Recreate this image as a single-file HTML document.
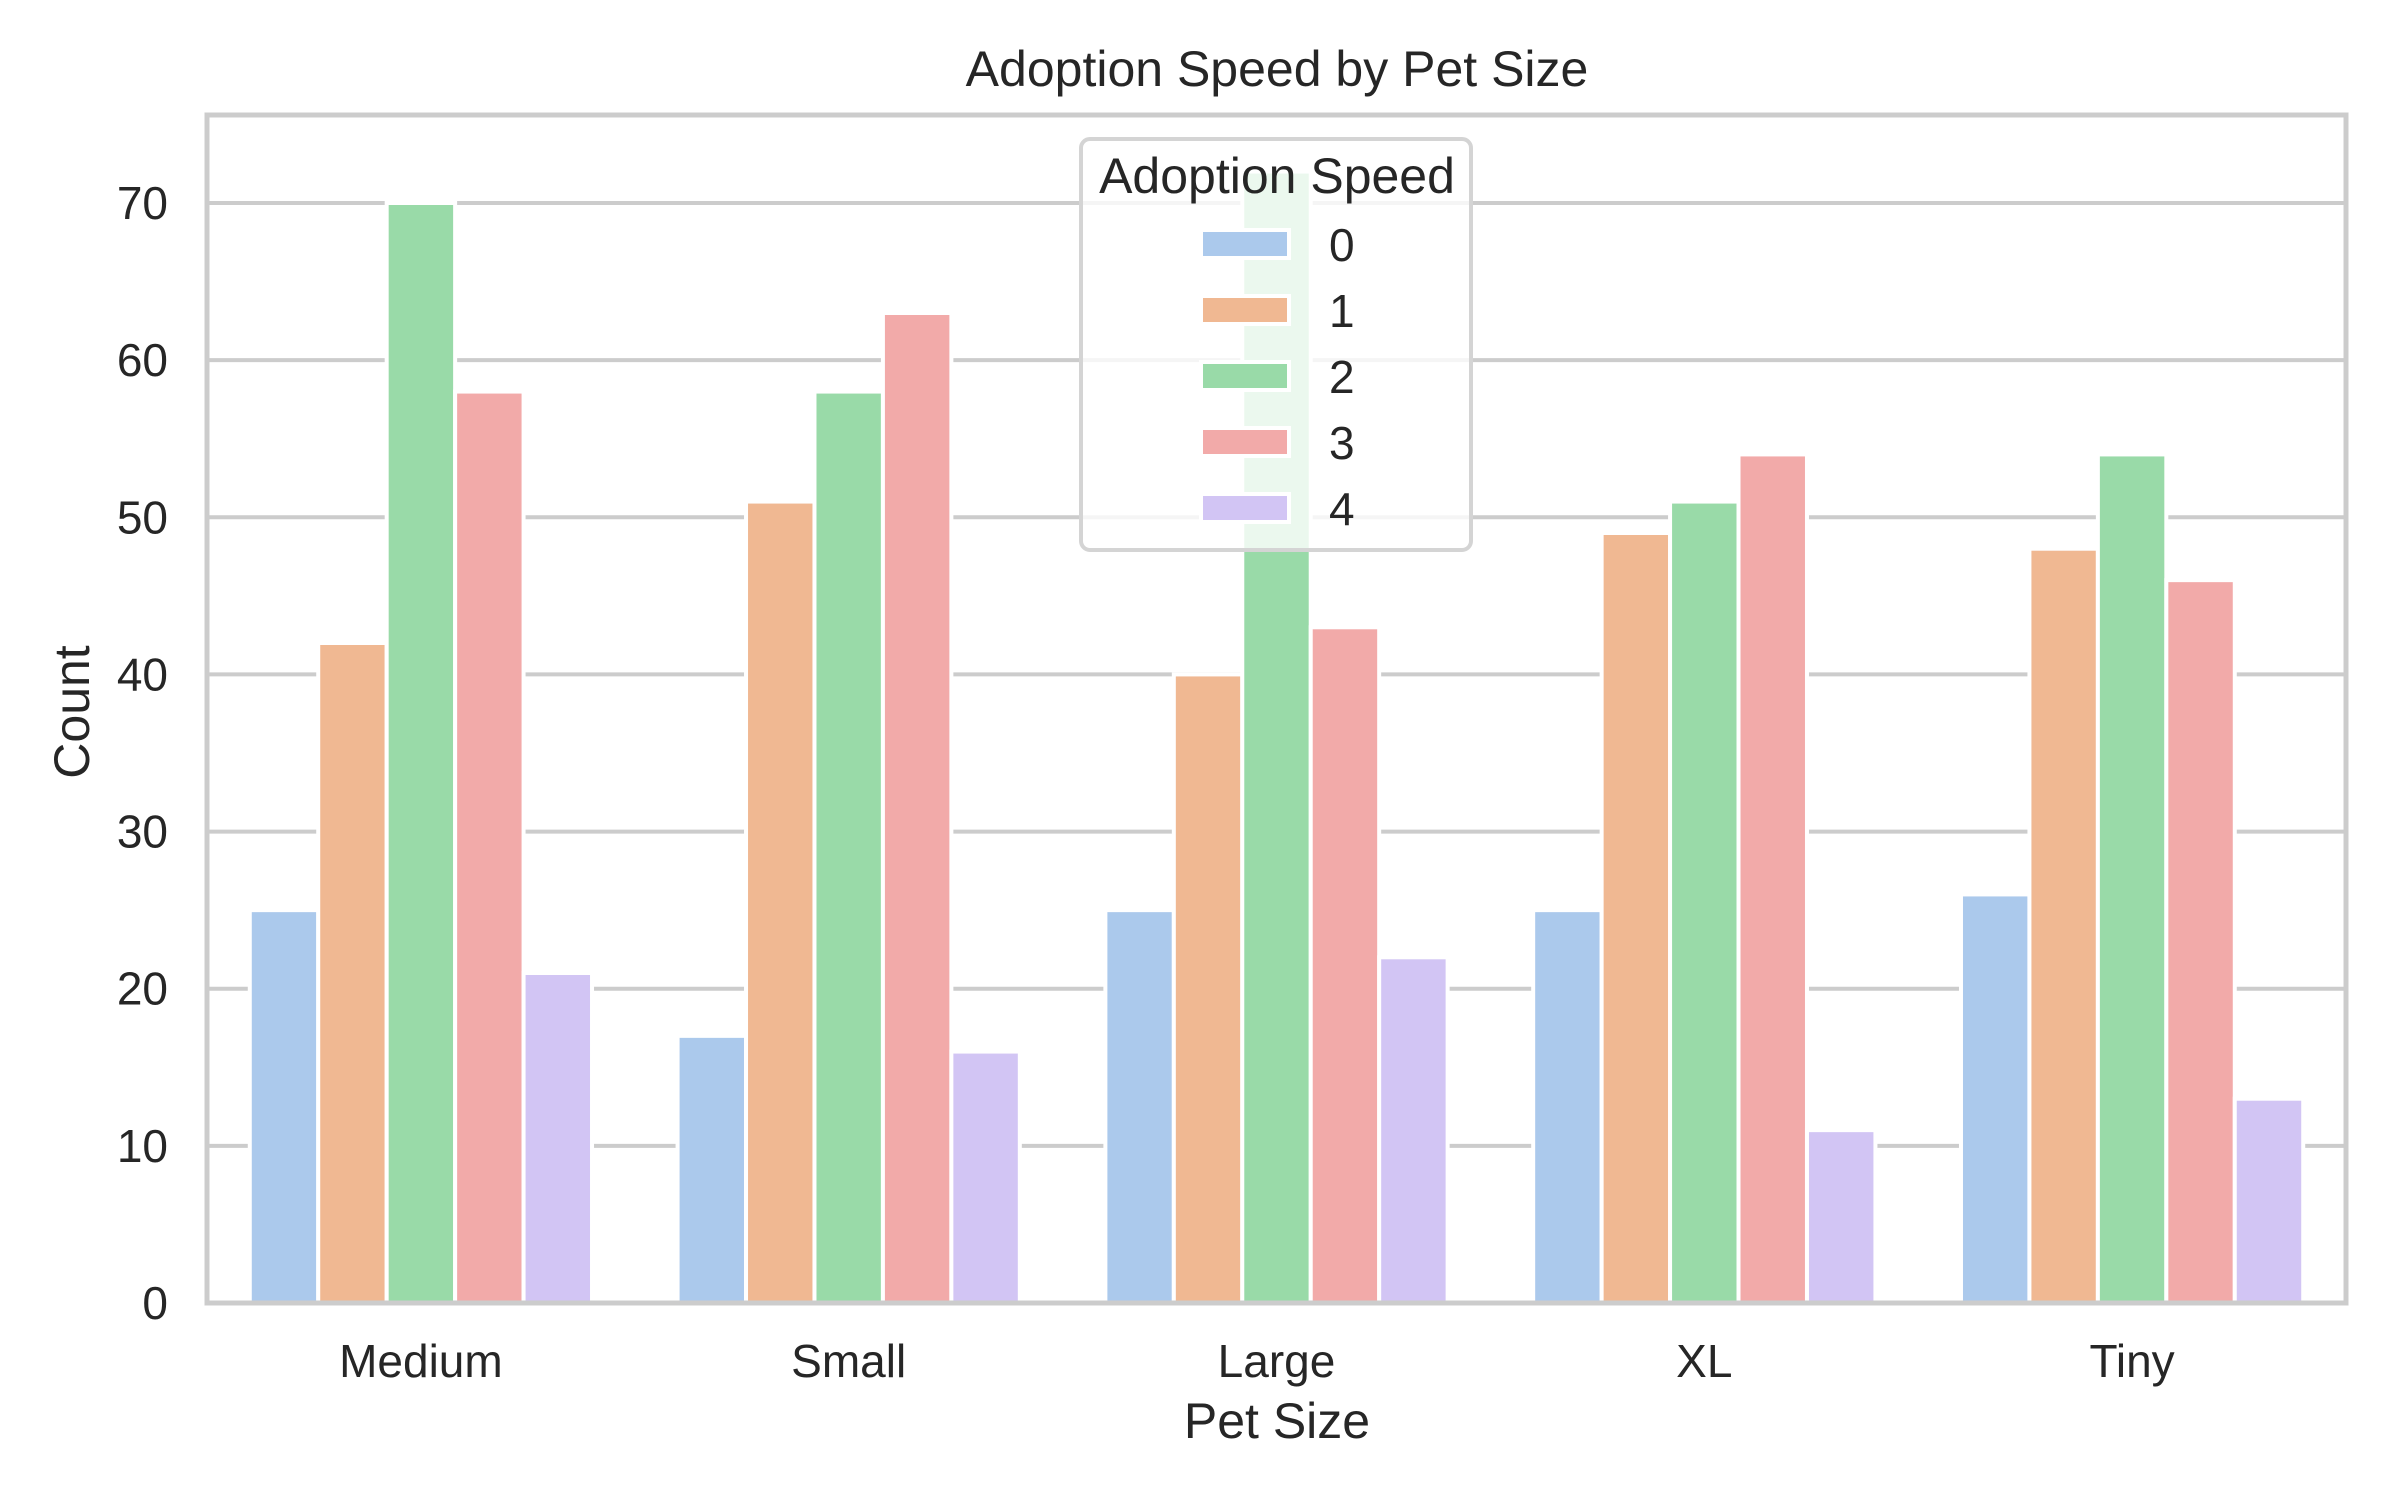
<!DOCTYPE html>
<html><head><meta charset="utf-8"><style>
html,body{margin:0;padding:0;background:#fff;}
svg{display:block;font-family:"Liberation Sans",Arial,sans-serif;}
</style></head><body>
<svg id="chart" xmlns="http://www.w3.org/2000/svg" width="2400" height="1500" viewBox="0 0 2400 1500">
<rect width="2400" height="1500" fill="#fff"/>
<g id="grid"></g>
<g id="bars"></g>
<g id="spines"></g>
<g id="yticks"></g>
<g id="xticks"></g>
<text x="1277" y="86" font-size="50" fill="#262626" text-anchor="middle">Adoption Speed by Pet Size</text>
<text x="1277" y="1438" font-size="50" fill="#262626" text-anchor="middle">Pet Size</text>
<text x="0" y="0" font-size="50" fill="#262626" text-anchor="middle" transform="translate(89,712) rotate(-90)">Count</text>
<g id="legend"></g>
</svg>
<script>
const categories = ["Medium","Small","Large","XL","Tiny"];
const seriesNames = ["0","1","2","3","4"];
const speed0 = [25,17,25,25,26];
const speed1 = [42,51,40,49,48];
const speed2 = [70,58,72,51,54];
const speed3 = [58,63,43,54,46];
const speed4 = [21,16,22,11,13];
const yTicks = [0,10,20,30,40,50,60,70];
const series = [speed0,speed1,speed2,speed3,speed4];
const colors = ["#abc9ec","#f0b892","#99daa8","#f2aaa9","#d2c5f4"];

const NS = "http://www.w3.org/2000/svg";
const L = 207, R = 2346, T = 115, B = 1303;
const yMax = 75.6;
const y = v => B - (v / yMax) * (B - T);
const step = (R - L) / categories.length;
const xc = i => L + step * (i + 0.5);
const groupW = step * 0.8, barW = groupW / series.length;

function mk(tag, attrs, parent) {
  const e = document.createElementNS(NS, tag);
  for (const k in attrs) e.setAttribute(k, attrs[k]);
  parent.appendChild(e);
  return e;
}
const grid = document.getElementById('grid');
const yt = document.getElementById('yticks');
yTicks.forEach(t => {
  const ln = mk('line', {x1: L, x2: R, y1: y(t), y2: y(t), stroke: '#cccccc', 'stroke-width': 4}, grid);
  
  
  const tx = mk('text', {x: 168, y: y(t) + 16, 'font-size': 46, fill: '#262626', 'text-anchor': 'end'}, yt);
  tx.textContent = t;
  
  
});
const bars = document.getElementById('bars');
series.forEach((s, si) => {
  s.forEach((v, ci) => {
    const x0 = xc(ci) - groupW / 2 + si * barW;
    const r = mk('rect', {x: x0, y: y(v), width: barW, height: B - y(v), fill: colors[si], stroke: '#fff', 'stroke-width': 4}, bars);
    
    
  });
});
const xt = document.getElementById('xticks');
categories.forEach((c, i) => {
  const tx = mk('text', {x: xc(i), y: 1377, 'font-size': 46, fill: '#262626', 'text-anchor': 'middle'}, xt);
  tx.textContent = c;
  
  
});
const sp = document.getElementById('spines');
const frame = mk('rect', {x: L, y: T, width: R - L, height: B - T, fill: 'none', stroke: '#cccccc', 'stroke-width': 5}, sp);



const lg = document.getElementById('legend');
const box = mk('rect', {x: 1081, y: 139, width: 390, height: 411, rx: 9, fill: 'rgba(255,255,255,0.8)', stroke: '#d4d4d4', 'stroke-width': 4}, lg);


const lt = mk('text', {x: 1277, y: 193, 'font-size': 50, fill: '#262626', 'text-anchor': 'middle'}, lg);
lt.textContent = 'Adoption Speed';


seriesNames.forEach((n, i) => {
  const cy = 244 + i * 66;
  const p = mk('rect', {x: 1201, y: cy - 14, width: 88, height: 28, fill: colors[i], stroke: '#fff', 'stroke-width': 4}, lg);
  
  
  const t = mk('text', {x: 1329, y: cy + 17, 'font-size': 46, fill: '#262626'}, lg);
  t.textContent = n;
  
  
});
</script>
</body></html>
